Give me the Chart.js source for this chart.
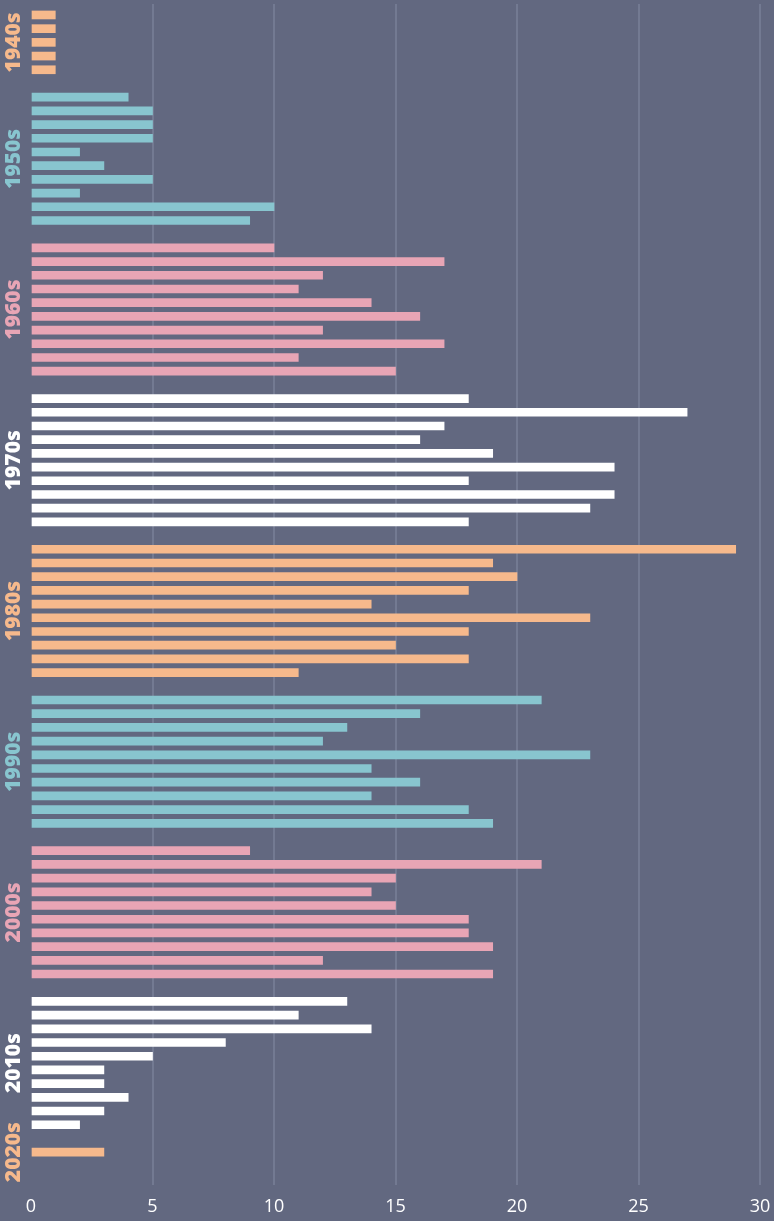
<!DOCTYPE html>
<html>
<head>
<meta charset="utf-8">
<script src="https://cdn.jsdelivr.net/npm/chart.js@4/dist/chart.umd.min.js"></script>
<style>
html,body{margin:0;padding:0;background:#626880;}
#wrap{width:774px;height:1221px;position:relative;}
</style>
</head>
<body>
<div id="wrap"><canvas id="c" width="774" height="1221"></canvas></div>
<script>
const decadeLabels = ['1940s','1950s','1960s','1970s','1980s','1990s','2000s','2010s','2020s'];
const decadeColors = ['#f6b98c','#88c5cf','#e8a5b5','#ffffff','#f6b98c','#88c5cf','#e8a5b5','#ffffff','#f6b98c'];
const v1940s = [1,1,1,1,1];
const v1950s = [4,5,5,5,2,3,5,2,10,9];
const v1960s = [10,17,12,11,14,16,12,17,11,15];
const v1970s = [18,27,17,16,19,24,18,24,23,18];
const v1980s = [29,19,20,18,14,23,18,15,18,11];
const v1990s = [21,16,13,12,23,14,16,14,18,19];
const v2000s = [9,21,15,14,15,18,18,19,12,19];
const v2010s = [13,11,14,8,5,3,3,4,3,2];
const v2020s = [3];
const decadeValues = [v1940s,v1950s,v1960s,v1970s,v1980s,v1990s,v2000s,v2010s,v2020s];
const xTicks = [0,5,10,15,20,25,30];

// build points: one empty slot between decades
const points = [], colors = [], groups = [];
let slot = 0;
decadeValues.forEach((vals, d) => {
  const start = slot;
  vals.forEach(v => { points.push({x: v, y: slot}); colors.push(decadeColors[d]); slot++; });
  groups.push({label: decadeLabels[d], color: decadeColors[d], first: start, last: slot - 1});
  slot++; // gap
});
const lastSlot = slot - 2;

const decadePlugin = {
  id: 'decades',
  afterDatasetsDraw(chart) {
    const ctx = chart.ctx, ys = chart.scales.y;
    ctx.save();
    ctx.font = '800 21px "Open Sans"';
    ctx.textAlign = 'center';
    ctx.textBaseline = 'middle';
    groups.forEach(g => {
      const yc = ys.getPixelForValue((g.first + g.last) / 2);
      ctx.save();
      ctx.translate(14.5, yc);
      ctx.rotate(-Math.PI / 2);
      ctx.fillStyle = g.color;
      ctx.fillText(g.label, 0, 0);
      ctx.restore();
    });
    ctx.restore();
  }
};

new Chart(document.getElementById('c'), {
  type: 'bar',
  data: {
    datasets: [{
      data: points,
      backgroundColor: colors,
      borderWidth: 0,
      barThickness: 8
    }]
  },
  options: {
    indexAxis: 'y',
    responsive: false,
    animation: false,
    layout: { padding: { left: 31, right: 14, top: 4, bottom: 0 } },
    plugins: { legend: { display: false }, tooltip: { enabled: false } },
    scales: {
      y: {
        type: 'linear',
        reverse: true,
        display: false,
        offset: false,
        grace: 0,
        min: -0.80,
        max: lastSlot + 2.4
      },
      x: {
        type: 'linear',
        min: 0,
        max: 30,
        afterBuildTicks(scale) { scale.ticks = xTicks.map(v => ({value: v})); },
        afterFit(scale) { scale.height = 36; scale.paddingLeft = 0; scale.paddingRight = 0; },
        border: { display: false },
        grid: {
          drawTicks: false,
          lineWidth: 2,
          color: ctx => (ctx.tick && ctx.tick.value === 0) ? 'rgba(0,0,0,0)' : '#737a92'
        },
        ticks: {
          color: '#ffffff',
          padding: 11,
          font: { family: '"Open Sans"', size: 18 },
          maxRotation: 0
        }
      }
    }
  },
  plugins: [decadePlugin]
});
</script>
</body>
</html>
